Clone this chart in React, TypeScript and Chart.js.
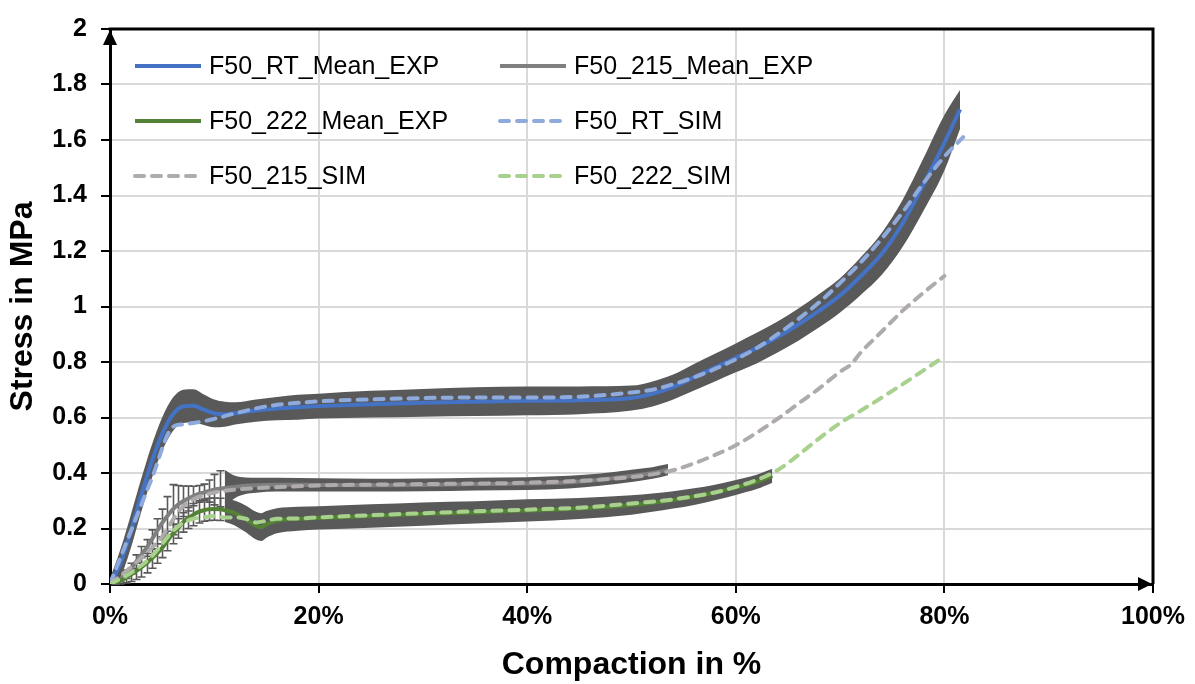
import { useEffect, useRef } from "react";
import { Chart, registerables } from "chart.js";

Chart.register(...registerables);

// ---- Experimental means (compaction in %, stress in MPa, scatter in MPa) ----
const rtExpX = [0, 1, 2, 3, 4, 5, 6, 7, 8, 9, 10, 11, 12, 14, 16, 18, 20, 25, 30, 35, 40, 45, 50, 52, 54, 56, 58, 60, 62, 64, 66, 68, 70, 72, 74, 76, 78, 80, 81.5];
const rtExpY = [0, 0.075, 0.19, 0.32, 0.44, 0.54, 0.61, 0.64, 0.642, 0.628, 0.615, 0.612, 0.615, 0.625, 0.632, 0.637, 0.641, 0.648, 0.653, 0.657, 0.66, 0.662, 0.67, 0.685, 0.71, 0.745, 0.78, 0.815, 0.85, 0.89, 0.935, 0.985, 1.04, 1.11, 1.19, 1.3, 1.44, 1.59, 1.71];
const rtExpErr = [0.02, 0.05, 0.06, 0.06, 0.06, 0.06, 0.06, 0.06, 0.06, 0.055, 0.05, 0.045, 0.04, 0.04, 0.042, 0.045, 0.045, 0.048, 0.05, 0.052, 0.052, 0.05, 0.045, 0.045, 0.045, 0.048, 0.05, 0.052, 0.055, 0.056, 0.058, 0.06, 0.062, 0.068, 0.076, 0.085, 0.095, 0.1, 0.07];

const exp215X = [0, 0.5, 1, 1.5, 2, 2.5, 3, 3.5, 4, 4.5, 5, 5.5, 6, 6.5, 7, 7.5, 8, 8.5, 9, 9.5, 10, 10.5, 11, 12, 13, 14, 16, 20, 25, 30, 35, 40, 44, 47, 50, 52, 53.5];
const exp215Y = [0, 0.005, 0.018, 0.035, 0.055, 0.08, 0.105, 0.13, 0.16, 0.19, 0.22, 0.245, 0.268, 0.285, 0.298, 0.308, 0.317, 0.325, 0.33, 0.335, 0.34, 0.343, 0.346, 0.35, 0.354, 0.356, 0.358, 0.357, 0.356, 0.357, 0.36, 0.362, 0.367, 0.376, 0.39, 0.4, 0.412];
const exp215Err = [0, 0.005, 0.01, 0.015, 0.02, 0.025, 0.03, 0.03, 0.035, 0.045, 0.05, 0.07, 0.09, 0.07, 0.055, 0.045, 0.035, 0.03, 0.03, 0.04, 0.055, 0.065, 0.065, 0.04, 0.03, 0.027, 0.025, 0.024, 0.023, 0.023, 0.023, 0.023, 0.023, 0.022, 0.022, 0.021, 0.02];

const exp222X = [0, 0.5, 1, 1.5, 2, 2.5, 3, 3.5, 4, 4.5, 5, 5.5, 6, 6.5, 7, 7.5, 8, 8.5, 9, 9.5, 10, 10.5, 11, 12, 13, 14, 14.5, 15, 16, 18, 20, 25, 30, 35, 40, 45, 50, 52, 54, 56, 58, 60, 62, 63.5];
const exp222Y = [0, 0.004, 0.012, 0.022, 0.033, 0.046, 0.06, 0.075, 0.092, 0.11, 0.13, 0.155, 0.18, 0.2, 0.222, 0.238, 0.25, 0.26, 0.266, 0.269, 0.27, 0.269, 0.266, 0.255, 0.235, 0.21, 0.205, 0.215, 0.228, 0.235, 0.238, 0.245, 0.252, 0.258, 0.265, 0.272, 0.285, 0.293, 0.303, 0.315, 0.33, 0.348, 0.368, 0.39];
const exp222Err = [0, 0.006, 0.012, 0.018, 0.024, 0.03, 0.035, 0.035, 0.035, 0.035, 0.035, 0.035, 0.035, 0.035, 0.035, 0.038, 0.04, 0.04, 0.04, 0.04, 0.04, 0.04, 0.042, 0.045, 0.048, 0.05, 0.05, 0.048, 0.045, 0.043, 0.042, 0.042, 0.042, 0.04, 0.04, 0.038, 0.035, 0.033, 0.031, 0.03, 0.028, 0.027, 0.026, 0.025];

// ---- Simulation curves ----
const rtSimX = [0, 2, 4, 6, 7, 8, 10, 12, 15, 20, 25, 30, 35, 40, 45, 50, 52, 54, 56, 58, 60, 62, 64, 66, 68, 70, 72, 74, 76, 78, 80, 81.8];
const rtSimY = [0, 0.19, 0.38, 0.565, 0.575, 0.58, 0.595, 0.615, 0.64, 0.658, 0.665, 0.67, 0.672, 0.672, 0.675, 0.69, 0.7, 0.72, 0.745, 0.775, 0.81, 0.85, 0.9, 0.955, 1.015, 1.085, 1.16, 1.245, 1.34, 1.445, 1.54, 1.61];

const sim215X = [0, 2, 4, 5, 6, 7, 8, 9, 10, 12, 14, 20, 25, 30, 35, 40, 45, 50, 52, 54, 56, 58, 60, 62, 64, 66, 68, 70, 71, 72, 74, 76, 78, 80];
const sim215Y = [0, 0.06, 0.13, 0.17, 0.23, 0.28, 0.305, 0.32, 0.33, 0.34, 0.345, 0.355, 0.358, 0.36, 0.362, 0.365, 0.372, 0.385, 0.395, 0.41, 0.435, 0.465, 0.5, 0.545, 0.595, 0.65, 0.705, 0.765, 0.79, 0.835, 0.91, 0.985, 1.05, 1.11];

const sim222X = [0, 2, 4, 6, 7, 8, 9, 10, 11, 12, 13, 14, 15, 16, 18, 20, 25, 30, 35, 40, 45, 50, 54, 58, 60, 62, 64, 66, 68, 70, 72, 74, 76, 78, 80];
const sim222Y = [0, 0.04, 0.1, 0.19, 0.22, 0.235, 0.24, 0.245, 0.24, 0.24, 0.235, 0.222, 0.228, 0.235, 0.236, 0.24, 0.248, 0.255, 0.262, 0.268, 0.275, 0.29, 0.305, 0.33, 0.35, 0.375, 0.41, 0.465, 0.525, 0.58, 0.625, 0.672, 0.72, 0.77, 0.82];

// ---- Axis ticks ----
const xTicks = [0, 20, 40, 60, 80, 100];
const yTicks = [0, 0.2, 0.4, 0.6, 0.8, 1, 1.2, 1.4, 1.6, 1.8, 2];

const FONT = "'Liberation Sans', Arial, Helvetica, sans-serif";
const BAND = "#595959";
const DASH = [9, 8];

type ExpSeries = { label: string; x: number[]; y: number[]; err: number[]; color: string; bandFrom: number };
type SimSeries = { label: string; x: number[]; y: number[]; color: string };

const expSeries: ExpSeries[] = [
  { label: "F50_RT_Mean_EXP", x: rtExpX, y: rtExpY, err: rtExpErr, color: "#4472C4", bandFrom: 0 },
  { label: "F50_215_Mean_EXP", x: exp215X, y: exp215Y, err: exp215Err, color: "#7F7F7F", bandFrom: 11 },
  { label: "F50_222_Mean_EXP", x: exp222X, y: exp222Y, err: exp222Err, color: "#548235", bandFrom: 11 },
];

const simSeries: SimSeries[] = [
  { label: "F50_RT_SIM", x: rtSimX, y: rtSimY, color: "#8FAADC" },
  { label: "F50_215_SIM", x: sim215X, y: sim215Y, color: "#AFABAB" },
  { label: "F50_222_SIM", x: sim222X, y: sim222Y, color: "#A9D18E" },
];

const pts = (xs: number[], ys: number[]) => xs.map((x, i) => ({ x, y: ys[i] }));

function buildDatasets() {
  const sets: any[] = [];
  // scatter band (mean ± sd) of each experimental curve, filled between its two edges
  expSeries.forEach((s) => {
    const idx = s.x.map((_, i) => i).filter((i) => s.x[i] >= s.bandFrom);
    sets.push({
      label: s.label + " +sd",
      data: idx.map((i) => ({ x: s.x[i], y: s.y[i] + s.err[i] })),
      showLine: true,
      borderWidth: 0,
      borderColor: BAND,
      backgroundColor: BAND,
      fill: "+1",
      cubicInterpolationMode: "monotone",
      order: 90,
    });
    sets.push({
      label: s.label + " -sd",
      data: idx.map((i) => ({ x: s.x[i], y: s.y[i] - s.err[i] })),
      showLine: true,
      borderWidth: 0,
      borderColor: BAND,
      backgroundColor: BAND,
      fill: false,
      cubicInterpolationMode: "monotone",
      order: 90,
    });
  });
  expSeries.forEach((s, k) => {
    sets.push({
      label: s.label,
      data: pts(s.x, s.y),
      showLine: true,
      borderColor: s.color,
      backgroundColor: s.color,
      borderWidth: 4,
      fill: false,
      cubicInterpolationMode: "monotone",
      order: 60 - k,
    });
  });
  simSeries.forEach((s, k) => {
    sets.push({
      label: s.label,
      data: pts(s.x, s.y),
      showLine: true,
      borderColor: s.color,
      backgroundColor: s.color,
      borderWidth: 4,
      borderDash: DASH,
      borderCapStyle: "round",
      fill: false,
      cubicInterpolationMode: "monotone",
      order: 30 - k,
    });
  });
  return sets;
}

// Error bars (whiskers with caps) for the sparse start of the experimental curves
const whiskerPlugin = {
  id: "whiskers",
  beforeDatasetsDraw(chart: any) {
    const { ctx, scales } = chart;
    const xs = scales.x;
    const ys = scales.y;
    ctx.save();
    ctx.strokeStyle = BAND;
    ctx.lineWidth = 1.6;
    expSeries.forEach((s) => {
      s.x.forEach((x, i) => {
        if (x >= s.bandFrom || s.err[i] <= 0) return;
        const px = Math.round(xs.getPixelForValue(x)) + 0.5;
        const top = ys.getPixelForValue(s.y[i] + s.err[i]);
        const bot = ys.getPixelForValue(s.y[i] - s.err[i]);
        ctx.beginPath();
        ctx.moveTo(px, top);
        ctx.lineTo(px, bot);
        ctx.moveTo(px - 4, top);
        ctx.lineTo(px + 4, top);
        ctx.moveTo(px - 4, bot);
        ctx.lineTo(px + 4, bot);
        ctx.stroke();
      });
    });
    ctx.restore();
  },
};

// Plot frame (top/right edges, axis arrows) and the two-column legend
const framePlugin = {
  id: "frameAndLegend",
  afterDraw(chart: any) {
    const { ctx, chartArea } = chart;
    const { left, right, top, bottom } = chartArea;
    ctx.save();
    ctx.strokeStyle = "#000";
    ctx.lineWidth = 3;
    ctx.beginPath();
    ctx.moveTo(left - 1.5, top);
    ctx.lineTo(right, top);
    ctx.lineTo(right, bottom);
    ctx.stroke();

    ctx.fillStyle = "#000";
    ctx.beginPath();
    ctx.moveTo(left, top + 1);
    ctx.lineTo(left - 7, top + 16);
    ctx.lineTo(left + 7, top + 16);
    ctx.closePath();
    ctx.fill();
    ctx.beginPath();
    ctx.moveTo(right - 1, bottom);
    ctx.lineTo(right - 15, bottom - 7);
    ctx.lineTo(right - 15, bottom + 7);
    ctx.closePath();
    ctx.fill();

    const entries = [
      { label: expSeries[0].label, color: expSeries[0].color, dash: false },
      { label: expSeries[1].label, color: expSeries[1].color, dash: false },
      { label: expSeries[2].label, color: expSeries[2].color, dash: false },
      { label: simSeries[0].label, color: simSeries[0].color, dash: true },
      { label: simSeries[1].label, color: simSeries[1].color, dash: true },
      { label: simSeries[2].label, color: simSeries[2].color, dash: true },
    ];
    const colX = [133, 498];
    const rowY = [66, 121, 176];
    ctx.font = `25px ${FONT}`;
    ctx.textBaseline = "middle";
    ctx.textAlign = "left";
    entries.forEach((e, i) => {
      const cx = colX[i % 2];
      const cy = rowY[Math.floor(i / 2)];
      ctx.strokeStyle = e.color;
      ctx.lineWidth = 4;
      ctx.lineCap = e.dash ? "round" : "butt";
      ctx.setLineDash(e.dash ? DASH : []);
      ctx.beginPath();
      ctx.moveTo(cx + 2, cy);
      ctx.lineTo(cx + 68, cy);
      ctx.stroke();
      ctx.setLineDash([]);
      ctx.fillStyle = "#000";
      ctx.fillText(e.label, cx + 76, cy + 1);
    });
    ctx.restore();
  },
};

export default function App() {
  const ref = useRef<HTMLCanvasElement | null>(null);

  useEffect(() => {
    if (!ref.current) return;
    const chart = new Chart(ref.current, {
      type: "scatter",
      data: { datasets: buildDatasets() },
      options: {
        animation: false,
        responsive: false,
        devicePixelRatio: 1,
        layout: { padding: { left: 0, top: 16, right: 42, bottom: 0 } },
        elements: { point: { radius: 0, hoverRadius: 0 } },
        plugins: {
          legend: { display: false },
          tooltip: { enabled: false },
        },
        scales: {
          x: {
            type: "linear",
            min: 0,
            max: 100,
            afterFit: (s: any) => {
              s.height = 100;
            },
            afterBuildTicks: (s: any) => {
              s.ticks = xTicks.map((v) => ({ value: v }));
            },
            ticks: {
              color: "#000",
              font: { family: FONT, size: 25, weight: "bold" },
              padding: 9,
              maxRotation: 0,
              callback: (v: any) => `${v}%`,
            },
            grid: { color: "#D9D9D9", lineWidth: 2, tickColor: "#000", tickLength: 9, tickWidth: 2 },
            border: { color: "#000", width: 3 },
            title: {
              display: true,
              text: "Compaction in %",
              color: "#000",
              font: { family: FONT, size: 32, weight: "bold" },
              padding: { top: 0, bottom: 0 },
            },
          },
          y: {
            type: "linear",
            min: 0,
            max: 2,
            afterFit: (s: any) => {
              s.width = 110;
            },
            afterBuildTicks: (s: any) => {
              s.ticks = yTicks.map((v) => ({ value: v }));
            },
            ticks: {
              color: "#000",
              font: { family: FONT, size: 25, weight: "bold" },
              padding: 14,
              callback: (v: any) => String(Math.round(Number(v) * 10) / 10),
            },
            grid: { color: "#D9D9D9", lineWidth: 2, tickColor: "#000", tickLength: 9, tickWidth: 2 },
            border: { color: "#000", width: 3 },
            title: {
              display: true,
              text: "Stress in MPa",
              color: "#000",
              font: { family: FONT, size: 32, weight: "bold" },
              padding: { top: 4, bottom: 0 },
            },
          },
        },
      },
      plugins: [whiskerPlugin, framePlugin],
    } as any);
    return () => chart.destroy();
  }, []);

  return (
    <div style={{ position: "absolute", left: 0, top: 0, width: 1195, height: 684, background: "#fff" }}>
      <canvas ref={ref} width={1195} height={684} />
    </div>
  );
}
